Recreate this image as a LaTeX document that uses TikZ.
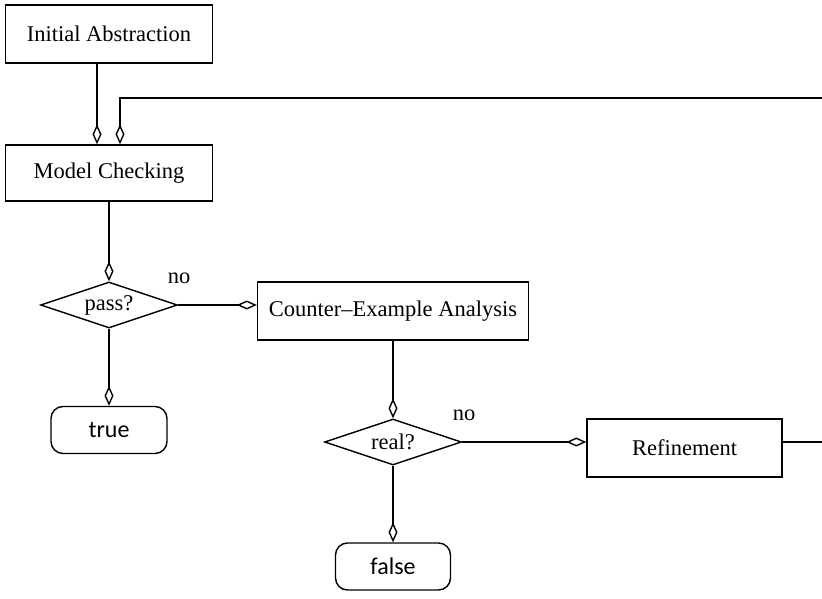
\documentclass[tikz,border=0pt]{standalone}
\usepackage{fontspec}
\setmainfont{Liberation Serif}
\newfontfamily\labelsans{Carlito}
\usetikzlibrary{shapes.geometric,arrows.meta}

\tikzset{
  base/.style={draw, line width=1.4pt, inner sep=0pt,
    font=\fontsize{22.5}{27}\selectfont},
  stepbox/.style={base, rectangle, minimum width=#1, minimum height=58pt},
  decision/.style={base, diamond, aspect=2.98, minimum width=137pt, minimum height=46pt},
  terminal/.style={base, rectangle, rounded corners=12pt, minimum width=#1, minimum height=47pt,
    font=\labelsans\fontsize{24}{28}\selectfont},
  flow/.style={line width=1.4pt, -{Diamond[open, length=20pt, width=9pt, line width=1.4pt]}},
  branch/.style={font=\fontsize{22.5}{27}\selectfont, anchor=base, inner sep=0pt},
}

\begin{document}
\begin{tikzpicture}[x=1pt, y=-1pt]
  \useasboundingbox (0,0) rectangle (822,599);
  \clip (0,0) rectangle (822,599);

  % process steps
  \node[stepbox=207pt] (ia)  at (109,34)  {Initial Abstraction};
  \node[stepbox=207pt, minimum height=56pt] (mc) at (109,173) {Model Checking};
  \node[decision] (pass) at (109,305) {pass?};
  \node[stepbox=271pt] (cea) at (393,311) {Counter--Example Analysis};
  \node[terminal=116pt] (true) at (109,430) {true};
  \node[decision] (real) at (393,442) {real?};
  \node[stepbox=195pt] (ref) at (684.5,448) {Refinement};
  \node[terminal=115pt] (false) at (393,566.5) {false};

  % branch labels
  \node[branch] (nopass) at (179,283) {no};
  \node[branch] (noreal) at (464,420) {no};

  % loop corners (beyond the right border)
  \coordinate (loopB) at (860,442);
  \coordinate (loopT) at (860,98);

  % connectors
  \draw[flow] ([xshift=-12pt]ia.south) -- ([xshift=-12pt]mc.north);
  \draw[flow] (mc.south) -- (pass.north);
  \draw[flow] (pass.east) -- (pass.east -| cea.west);
  \draw[flow] (pass.south) -- (true.north);
  \draw[flow] (cea.south) -- (real.north);
  \draw[flow] (real.east) -- (real.east -| ref.west);
  \draw[flow] (real.south) -- (false.north);
  \draw[flow] (ref.east |- loopB) -- (loopB) -- (loopT) -| ([xshift=11pt]mc.north);
\end{tikzpicture}
\end{document}
